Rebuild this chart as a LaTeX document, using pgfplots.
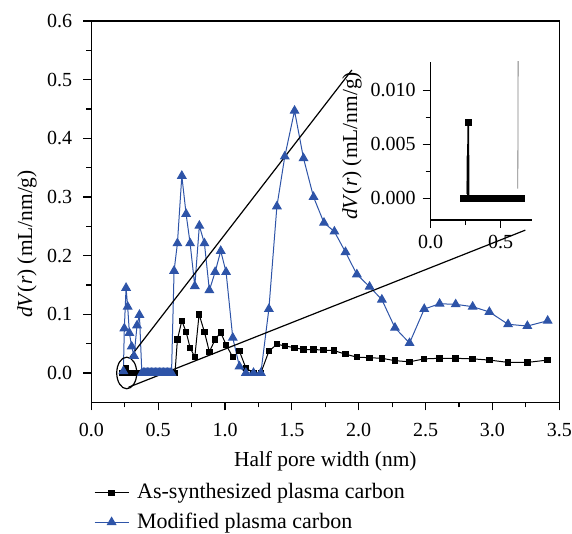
\documentclass[border=0pt]{standalone}
\usepackage{fontspec}
\setmainfont{Liberation Serif}
\usepackage{pgfplots}
\pgfplotsset{compat=1.18}
\definecolor{pblue}{RGB}{46,84,168}
\newcommand{\lbl}{\fontsize{10.7}{12.8}\selectfont}
\newcommand{\lgd}{\fontsize{11}{13}\selectfont}
\newcommand{\tck}{\fontsize{10}{12}\selectfont}

\begin{document}
\begin{tikzpicture}
\useasboundingbox (-45.65pt,-65.85pt) rectangle (240.35pt,201.15pt);
% main panel
\begin{axis}[
  scale only axis, width=234pt, height=190.65pt,
  xmin=0, xmax=3.5, ymin=-0.05, ymax=0.6,
  xtick={0,0.5,1,1.5,2,2.5,3,3.5}, ytick={0,0.1,0.2,0.3,0.4,0.5,0.6},
  minor x tick num=1, minor y tick num=1,
  tick align=outside, xtick pos=bottom, ytick pos=left,
  major tick length=4pt, minor tick length=2.6pt,
  axis line style={line width=0.7pt},
  every tick/.style={black, line width=0.6pt},
  ticklabel style={font=\tck},
  xticklabel style={yshift=-3pt, /pgf/number format/.cd, fixed, fixed zerofill, precision=1, assume math mode=true},
  yticklabel style={xshift=-2pt, /pgf/number format/.cd, fixed, fixed zerofill, precision=1, assume math mode=true},
  xlabel={Half pore width (nm)},
  xlabel style={font=\lbl, at={(axis description cs:0.5,-0.154)}, anchor=center},
  ylabel={\textit{dV}(\textit{r}) (mL/nm/g)},
  ylabel style={font=\lbl, at={(axis description cs:-0.1374,0.415)}, anchor=center},
  legend cell align=left,
  legend style={draw=none, fill=none, font=\lgd, at={(axis description cs:0.005,-0.202)}, anchor=north west, inner sep=0pt, row sep=1.5pt, column sep=2pt},
]
\addplot[black, line width=0.5pt, mark=square*, mark size=1.35pt, mark options={solid}] coordinates {
(0.228,0) (0.24,0) (0.25,0) (0.26,0.008) (0.27,0) (0.28,0) (0.29,0) (0.30,0) (0.31,0) (0.32,0)
(0.33,0) (0.34,0) (0.35,0) (0.36,0) (0.37,0) (0.38,0) (0.39,0) (0.40,0) (0.41,0) (0.42,0)
(0.43,0) (0.44,0) (0.45,0) (0.46,0) (0.47,0) (0.48,0) (0.49,0) (0.50,0) (0.51,0) (0.52,0)
(0.53,0) (0.54,0) (0.55,0) (0.56,0) (0.57,0) (0.58,0) (0.59,0) (0.60,0) (0.61,0) (0.626,0)
(0.644,0.057) (0.677,0.089) (0.709,0.070) (0.739,0.043) (0.774,0.027) (0.806,0.100)
(0.846,0.070) (0.883,0.036) (0.926,0.057) (0.968,0.069) (1.008,0.048) (1.058,0.027)
(1.108,0.037) (1.156,0.0085) (1.213,0) (1.268,0) (1.328,0.037) (1.388,0.049) (1.450,0.046)
(1.520,0.043) (1.587,0.040) (1.662,0.040) (1.737,0.039) (1.817,0.038) (1.901,0.032)
(1.986,0.027) (2.081,0.026) (2.173,0.025) (2.271,0.021) (2.380,0.019) (2.490,0.024)
(2.605,0.025) (2.725,0.025) (2.852,0.024) (2.977,0.022) (3.117,0.018) (3.261,0.018) (3.413,0.022)
};
\addplot[pblue, line width=0.5pt, mark=triangle*, mark size=2.4pt, mark options={solid}] coordinates {
(0.240,0.003) (0.247,0.076) (0.260,0.145) (0.272,0.113) (0.285,0.068) (0.302,0.045)
(0.320,0.029) (0.342,0.081) (0.360,0.099) (0.378,0)
(0.39,0) (0.40,0) (0.41,0) (0.42,0) (0.43,0) (0.44,0) (0.45,0) (0.46,0) (0.47,0) (0.48,0)
(0.49,0) (0.50,0) (0.51,0) (0.52,0) (0.53,0) (0.54,0) (0.55,0) (0.56,0) (0.57,0) (0.58,0) (0.59,0)
(0.600,0) (0.619,0.174) (0.644,0.221) (0.677,0.336) (0.709,0.271) (0.739,0.221)
(0.774,0.148) (0.808,0.251) (0.846,0.221) (0.883,0.141) (0.926,0.172) (0.968,0.208)
(1.008,0.172) (1.058,0.060) (1.108,0.011) (1.156,0) (1.213,0) (1.268,0) (1.328,0.109)
(1.388,0.284) (1.447,0.369) (1.520,0.447) (1.587,0.366) (1.662,0.300) (1.740,0.256)
(1.818,0.241) (1.901,0.206) (1.986,0.168) (2.081,0.147) (2.173,0.125) (2.271,0.077)
(2.380,0.051) (2.490,0.109) (2.605,0.118) (2.725,0.117) (2.852,0.113) (2.977,0.104)
(3.117,0.083) (3.261,0.080) (3.413,0.089)
};
\legend{As-synthesized plasma carbon, Modified plasma carbon}
% zoom marker
\draw[line width=0.6pt] (axis cs:0.265,0) ellipse [x radius=5pt, y radius=7.9pt];
\draw[line width=0.6pt] (axis cs:0.29,0.0268) -- (axis cs:1.949,0.5166);
\draw[line width=0.6pt] (axis cs:0.278,-0.0244) -- (axis cs:3.246,0.2435);
\end{axis}
% inset
\begin{axis}[
  at={(169.7pt,91.15pt)}, anchor=south west,
  scale only axis, width=50.4pt, height=79pt,
  xmin=0, xmax=0.72, ymin=-0.002, ymax=0.0126,
  axis lines*=left,
  xtick={0,0.5}, ytick={0,0.005,0.01},
  minor x tick num=1, minor y tick num=1,
  tick align=outside, scaled y ticks=false, scaled x ticks=false,
  major tick length=4pt, minor tick length=2.6pt,
  axis line style={line width=0.7pt},
  every tick/.style={black, line width=0.6pt},
  ticklabel style={font=\tck},
  xticklabel style={/pgf/number format/.cd, fixed, fixed zerofill, precision=1, assume math mode=true},
  yticklabel style={/pgf/number format/.cd, fixed, fixed zerofill, precision=3, assume math mode=true},
  ylabel={\textit{dV}(\textit{r}) (mL/nm/g)},
  ylabel style={font=\lbl, at={(axis description cs:-0.78,0.468)}, anchor=center},
]
\addplot[gray, line width=0.4pt] coordinates {(0.256,0.0004) (0.258,0.0037) (0.262,0.0035) (0.264,0.0004)};
\addplot[gray, line width=0.4pt] coordinates {(0.622,0.0009) (0.626,0.02)};
\addplot[black, line width=0.9pt, mark=square*, mark size=1.2pt, mark options={solid}] coordinates {
(0.23,0) (0.24,0) (0.25,0) (0.26,0) (0.266,0) (0.268,0.007) (0.27,0) (0.28,0) (0.29,0) (0.30,0)
(0.31,0) (0.32,0) (0.33,0) (0.34,0) (0.35,0) (0.36,0) (0.37,0) (0.38,0) (0.39,0) (0.40,0)
(0.41,0) (0.42,0) (0.43,0) (0.44,0) (0.45,0) (0.46,0) (0.47,0) (0.48,0) (0.49,0) (0.50,0)
(0.51,0) (0.52,0) (0.53,0) (0.54,0) (0.55,0) (0.56,0) (0.57,0) (0.58,0) (0.59,0) (0.60,0)
(0.61,0) (0.62,0) (0.63,0) (0.64,0) (0.65,0)
};
\end{axis}
\end{tikzpicture}
\end{document}
